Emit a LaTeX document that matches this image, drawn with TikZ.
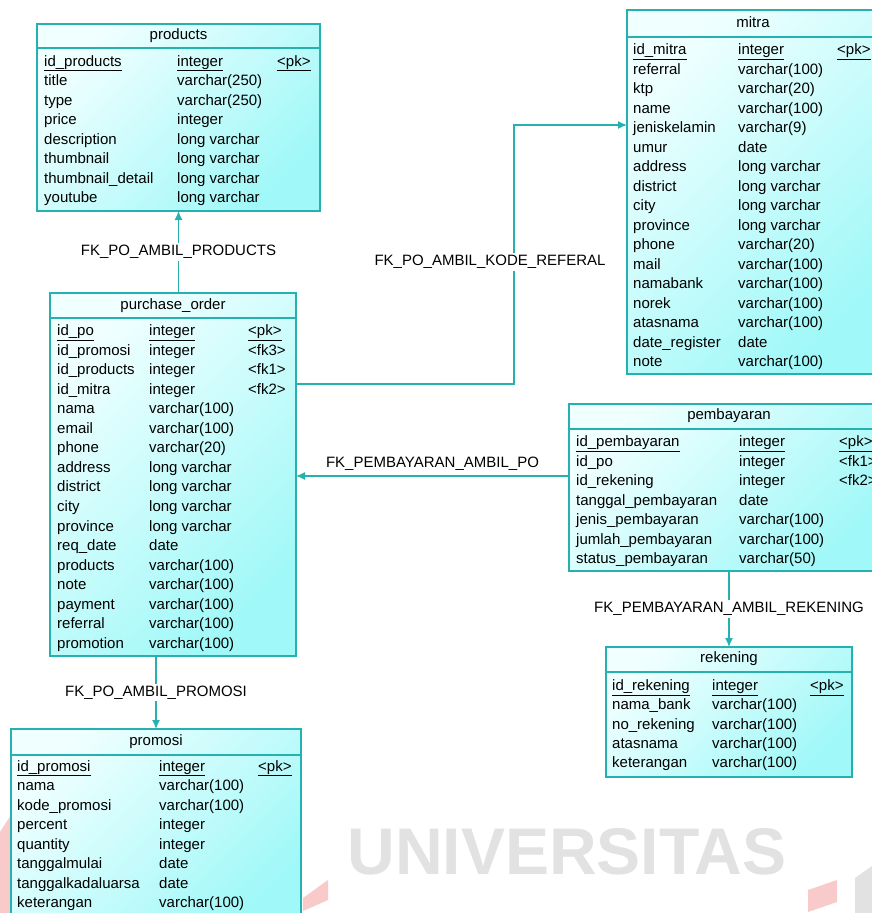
\documentclass[tikz,border=0pt]{standalone}
\usepackage{fontspec}
\setmainfont{Liberation Sans}
\usetikzlibrary{arrows.meta}
\definecolor{tabline}{RGB}{38,176,176}
\definecolor{tabfill}{RGB}{160,248,248}
\definecolor{tablight}{RGB}{240,255,255}
\definecolor{wmgray}{RGB}{226,226,226}
\definecolor{wmred}{RGB}{248,202,202}
\newcommand\tabfont{\fontsize{15}{17}\selectfont}
\begin{document}
\begin{tikzpicture}[x=1pt,y=-1pt,
	tablebox/.style={draw=tabline,line width=1.3pt,inner sep=0pt,outer sep=0pt,anchor=north west,top color=tablight,bottom color=tabfill,shading angle=45},
	sepline/.style={draw=tabline,line width=1.3pt},
	tabtitle/.style={inner sep=0pt,font=\tabfont},
	field/.style={anchor=base west,inner sep=0pt,font=\tabfont},
	fk/.style={draw=tabline,line width=1.4pt,-{Latex[length=9pt,width=8pt]}},
	fklabel/.style={fill=white,inner sep=2pt,font=\tabfont}]
		%\draw [help lines] (0,0) grid (872,913);
		\useasboundingbox (0,0) rectangle (872,913);
		\clip (0,0) rectangle (872,913);
		\fill [white] (0,0) rectangle (872,913);
		\def\pitch{19.5}
	% watermark
		\node [text=wmgray,inner sep=0pt,font=\fontsize{66}{66}\selectfont\bfseries] (wm) at (567,852) {UNIVERSITAS};
		\fill [wmred] (303,898) -- (328,880) -- (328,900) -- (303,911) -- cycle;
		\fill [wmred] (808,890) -- (837,880) -- (837,902) -- (808,912) -- cycle;
		\fill [wmred] (0,832) -- (11,815) -- (11,913) -- (0,913) -- cycle;
		\fill [wmgray] (855,878) -- (872,866) -- (872,913) -- (855,913) -- cycle;
	% products
		\node [tablebox,minimum width=283,minimum height=187] (products) at (37,24) {};
		\draw [sepline] ([yshift=-24pt]products.north west) -- ([yshift=-24pt]products.north east);
		\node [tabtitle] (products-title) at ([yshift=-12pt]products.north) {products};
		\node [field] (products-pk) at (44,66) {\underline{id\_products}};
		\node [field] (products-pkt) at (177,66) {\underline{integer}};
		\node [field] (products-pkk) at (277,66) {\underline{<pk>}};
		\foreach \f/\t [count=\i] in {title/varchar(250),type/varchar(250),price/integer,description/long varchar,thumbnail/long varchar,thumbnail\_detail/long varchar,youtube/long varchar}{
			\node [field] (products-f\i) at (44,{66+\i*\pitch}) {\f};
			\node [field] (products-t\i) at (177,{66+\i*\pitch}) {\t};
		}
	% mitra
		\node [tablebox,minimum width=252,minimum height=364] (mitra) at (627,10) {};
		\draw [sepline] ([yshift=-27pt]mitra.north west) -- ([yshift=-27pt]mitra.north east);
		\node [tabtitle] (mitra-title) at ([yshift=-12pt]mitra.north) {mitra};
		\node [field] (mitra-pk) at (633,54.5) {\underline{id\_mitra}};
		\node [field] (mitra-pkt) at (738,54.5) {\underline{integer}};
		\node [field] (mitra-pkk) at (837,54.5) {\underline{<pk>}};
		\foreach \f/\t [count=\i] in {referral/varchar(100),ktp/varchar(20),name/varchar(100),jeniskelamin/varchar(9),umur/date,address/long varchar,district/long varchar,city/long varchar,province/long varchar,phone/varchar(20),mail/varchar(100),namabank/varchar(100),norek/varchar(100),atasnama/varchar(100),date\_register/date,note/varchar(100)}{
			\node [field] (mitra-f\i) at (633,{54.5+\i*\pitch}) {\f};
			\node [field] (mitra-t\i) at (738,{54.5+\i*\pitch}) {\t};
		}
	% purchase_order
		\node [tablebox,minimum width=246,minimum height=363] (po) at (50,293) {};
		\draw [sepline] ([yshift=-25pt]po.north west) -- ([yshift=-25pt]po.north east);
		\node [tabtitle] (po-title) at ([yshift=-13pt]po.north) {purchase\_order};
		\node [field] (po-pk) at (57,335.5) {\underline{id\_po}};
		\node [field] (po-pkt) at (149,335.5) {\underline{integer}};
		\node [field] (po-pkk) at (248,335.5) {\underline{<pk>}};
		\foreach \f/\t [count=\i] in {id\_promosi/integer,id\_products/integer,id\_mitra/integer,nama/varchar(100),email/varchar(100),phone/varchar(20),address/long varchar,district/long varchar,city/long varchar,province/long varchar,req\_date/date,products/varchar(100),note/varchar(100),payment/varchar(100),referral/varchar(100),promotion/varchar(100)}{
			\node [field] (po-f\i) at (57,{335.5+\i*19.56}) {\f};
			\node [field] (po-t\i) at (149,{335.5+\i*19.56}) {\t};
		}
		\foreach \k [count=\i] in {<fk3>,<fk1>,<fk2>}
			\node [field] (po-k\i) at (248,{335.5+\i*19.56}) {\k};
	% pembayaran
		\node [tablebox,minimum width=320,minimum height=167] (pembayaran) at (569,404) {};
		\draw [sepline] ([yshift=-25pt]pembayaran.north west) -- ([yshift=-25pt]pembayaran.north east);
		\node [tabtitle] (pembayaran-title) at ([yshift=-12pt]pembayaran.north) {pembayaran};
		\node [field] (pembayaran-pk) at (576,446.5) {\underline{id\_pembayaran}};
		\node [field] (pembayaran-pkt) at (739,446.5) {\underline{integer}};
		\node [field] (pembayaran-pkk) at (839,446.5) {\underline{<pk>}};
		\foreach \f/\t [count=\i] in {id\_po/integer,id\_rekening/integer,tanggal\_pembayaran/date,jenis\_pembayaran/varchar(100),jumlah\_pembayaran/varchar(100),status\_pembayaran/varchar(50)}{
			\node [field] (pembayaran-f\i) at (576,{446.5+\i*\pitch}) {\f};
			\node [field] (pembayaran-t\i) at (739,{446.5+\i*\pitch}) {\t};
		}
		\foreach \k [count=\i] in {<fk1>,<fk2>}
			\node [field] (pembayaran-k\i) at (839,{446.5+\i*\pitch}) {\k};
	% rekening
		\node [tablebox,minimum width=246,minimum height=130] (rekening) at (606,647) {};
		\draw [sepline] ([yshift=-25pt]rekening.north west) -- ([yshift=-25pt]rekening.north east);
		\node [tabtitle] (rekening-title) at ([yshift=-12pt]rekening.north) {rekening};
		\node [field] (rekening-pk) at (612,690.5) {\underline{id\_rekening}};
		\node [field] (rekening-pkt) at (712,690.5) {\underline{integer}};
		\node [field] (rekening-pkk) at (810,690.5) {\underline{<pk>}};
		\foreach \f/\t [count=\i] in {nama\_bank/varchar(100),no\_rekening/varchar(100),atasnama/varchar(100),keterangan/varchar(100)}{
			\node [field] (rekening-f\i) at (612,{690.5+\i*19.25}) {\f};
			\node [field] (rekening-t\i) at (712,{690.5+\i*19.25}) {\t};
		}
	% promosi
		\node [tablebox,minimum width=290,minimum height=200] (promosi) at (11,729) {};
		\draw [sepline] ([yshift=-26pt]promosi.north west) -- ([yshift=-26pt]promosi.north east);
		\node [tabtitle] (promosi-title) at ([yshift=-13pt]promosi.north) {promosi};
		\node [field] (promosi-pk) at (17,771) {\underline{id\_promosi}};
		\node [field] (promosi-pkt) at (159,771) {\underline{integer}};
		\node [field] (promosi-pkk) at (258,771) {\underline{<pk>}};
		\foreach \f/\t [count=\i] in {nama/varchar(100),kode\_promosi/varchar(100),percent/integer,quantity/integer,tanggalmulai/date,tanggalkadaluarsa/date,keterangan/varchar(100)}{
			\node [field] (promosi-f\i) at (17,{771+\i*\pitch}) {\f};
			\node [field] (promosi-t\i) at (159,{771+\i*\pitch}) {\t};
		}
	% references
		\coordinate (kink1) at (514,384);
		\coordinate (kink2) at (514,125);
		\coordinate (payline) at (0,476);
		\draw [fk] (po.north -| products.south) -- (products.south) node [fklabel,midway] (lbl-products) {FK\_PO\_AMBIL\_PRODUCTS};
		\draw [fk] (po.east |- kink1) -- (kink1) -- (kink2) -- (mitra.west |- kink2);
		\node [fklabel] (lbl-referal) at (490,262) {FK\_PO\_AMBIL\_KODE\_REFERAL};
		\draw [fk] (pembayaran.west |- payline) -- (po.east |- payline) node [fklabel,midway,above=3pt] (lbl-po) {FK\_PEMBAYARAN\_AMBIL\_PO};
		\draw [fk] (pembayaran.south -| rekening.north) -- (rekening.north) node [fklabel,midway] (lbl-rekening) {FK\_PEMBAYARAN\_AMBIL\_REKENING};
		\draw [fk] (po.south -| promosi.north) -- (promosi.north) node [fklabel,midway] (lbl-promosi) {FK\_PO\_AMBIL\_PROMOSI};
\end{tikzpicture}
\end{document}
